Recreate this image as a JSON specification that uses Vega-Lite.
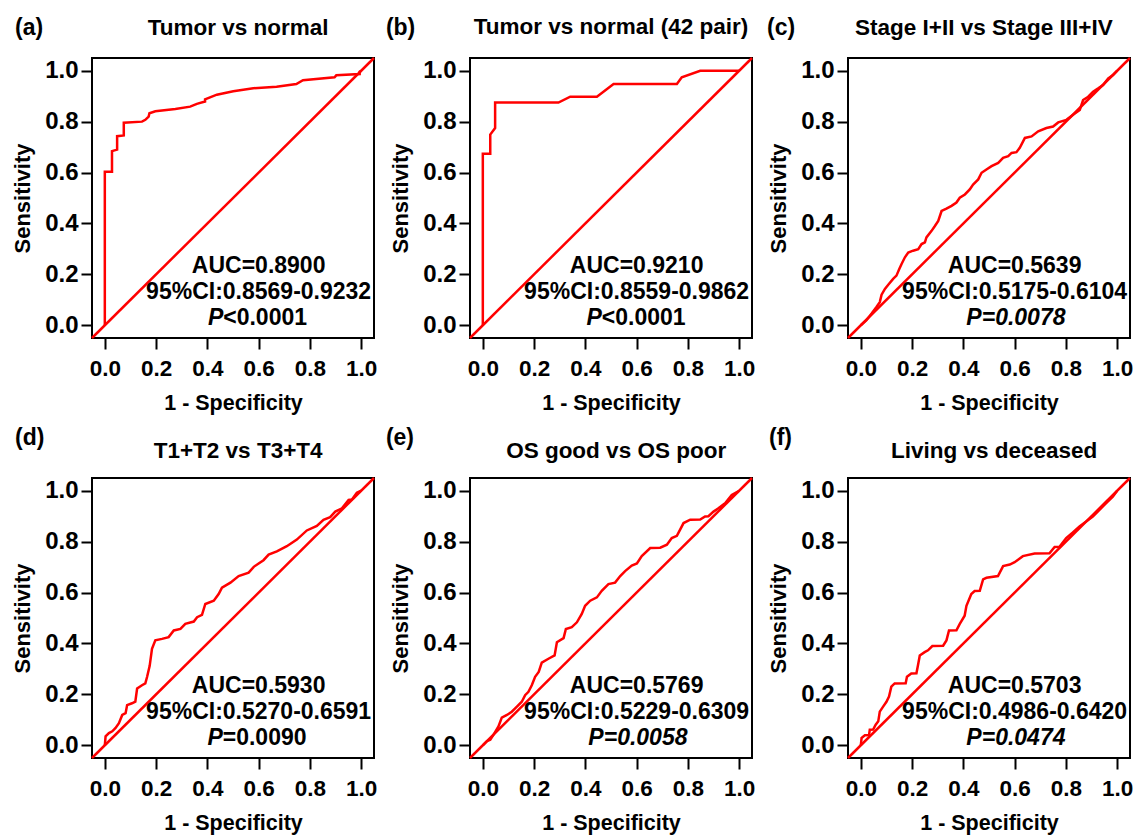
{
  "$schema": "https://vega.github.io/schema/vega-lite/v6.json",
  "background": "white",
  "padding": {"left": 10, "top": 14, "right": 4, "bottom": 2},
  "config": {
    "font": "Liberation Sans",
    "view": {"stroke": "black", "strokeWidth": 2},
    "axis": {"domain": false, "grid": false, "ticks": true, "tickColor": "black", "tickWidth": 2, "tickSize": 11, "labelColor": "black", "titleColor": "black", "labelFont": "Liberation Sans", "titleFont": "Liberation Sans", "labelFontWeight": "bold", "titleFontWeight": "bold", "labelFlush": false, "labelOverlap": false},
    "axisX": {"labelFontSize": 22.5, "titleFontSize": 21.5, "labelPadding": 8, "titlePadding": 13},
    "axisY": {"labelFontSize": 24, "titleFontSize": 22, "labelPadding": 3, "titlePadding": 10},
    "text": {"font": "Liberation Sans", "fontWeight": "bold", "fontSize": 23, "color": "black", "baseline": "middle"}
  },
  "datasets": {
    "a": [{"fpr":0,"tpr":0},{"fpr":0,"tpr":0.603},{"fpr":0.028,"tpr":0.603},{"fpr":0.028,"tpr":0.684},{"fpr":0.048,"tpr":0.69},{"fpr":0.048,"tpr":0.743},{"fpr":0.074,"tpr":0.746},{"fpr":0.074,"tpr":0.796},{"fpr":0.145,"tpr":0.8},{"fpr":0.158,"tpr":0.807},{"fpr":0.171,"tpr":0.82},{"fpr":0.174,"tpr":0.833},{"fpr":0.197,"tpr":0.841},{"fpr":0.275,"tpr":0.85},{"fpr":0.333,"tpr":0.859},{"fpr":0.359,"tpr":0.87},{"fpr":0.391,"tpr":0.879},{"fpr":0.391,"tpr":0.888},{"fpr":0.437,"tpr":0.906},{"fpr":0.501,"tpr":0.919},{"fpr":0.579,"tpr":0.931},{"fpr":0.67,"tpr":0.9375},{"fpr":0.747,"tpr":0.948},{"fpr":0.773,"tpr":0.963},{"fpr":0.896,"tpr":0.974},{"fpr":0.903,"tpr":0.982},{"fpr":0.994,"tpr":0.987},{"fpr":0.994,"tpr":0.996},{"fpr":1,"tpr":1}],
    "b": [{"fpr":0,"tpr":0},{"fpr":0,"tpr":0.674},{"fpr":0.029,"tpr":0.674},{"fpr":0.029,"tpr":0.749},{"fpr":0.048,"tpr":0.775},{"fpr":0.048,"tpr":0.875},{"fpr":0.295,"tpr":0.875},{"fpr":0.341,"tpr":0.898},{"fpr":0.445,"tpr":0.898},{"fpr":0.51,"tpr":0.948},{"fpr":0.757,"tpr":0.948},{"fpr":0.776,"tpr":0.974},{"fpr":0.848,"tpr":1},{"fpr":1,"tpr":1}],
    "c": [{"fpr":0,"tpr":0},{"fpr":0.022,"tpr":0.02},{"fpr":0.042,"tpr":0.046},{"fpr":0.061,"tpr":0.072},{"fpr":0.074,"tpr":0.091},{"fpr":0.081,"tpr":0.12},{"fpr":0.094,"tpr":0.143},{"fpr":0.107,"tpr":0.159},{"fpr":0.126,"tpr":0.182},{"fpr":0.139,"tpr":0.195},{"fpr":0.15,"tpr":0.221},{"fpr":0.159,"tpr":0.241},{"fpr":0.172,"tpr":0.267},{"fpr":0.185,"tpr":0.286},{"fpr":0.204,"tpr":0.293},{"fpr":0.224,"tpr":0.299},{"fpr":0.237,"tpr":0.319},{"fpr":0.25,"tpr":0.326},{"fpr":0.256,"tpr":0.345},{"fpr":0.276,"tpr":0.371},{"fpr":0.289,"tpr":0.39},{"fpr":0.302,"tpr":0.41},{"fpr":0.315,"tpr":0.449},{"fpr":0.334,"tpr":0.458},{"fpr":0.354,"tpr":0.469},{"fpr":0.373,"tpr":0.482},{"fpr":0.386,"tpr":0.501},{"fpr":0.406,"tpr":0.514},{"fpr":0.425,"tpr":0.534},{"fpr":0.438,"tpr":0.553},{"fpr":0.458,"tpr":0.573},{"fpr":0.471,"tpr":0.599},{"fpr":0.49,"tpr":0.612},{"fpr":0.51,"tpr":0.625},{"fpr":0.536,"tpr":0.638},{"fpr":0.555,"tpr":0.658},{"fpr":0.575,"tpr":0.664},{"fpr":0.588,"tpr":0.677},{"fpr":0.607,"tpr":0.68},{"fpr":0.62,"tpr":0.697},{"fpr":0.64,"tpr":0.736},{"fpr":0.666,"tpr":0.742},{"fpr":0.692,"tpr":0.762},{"fpr":0.724,"tpr":0.775},{"fpr":0.75,"tpr":0.781},{"fpr":0.77,"tpr":0.797},{"fpr":0.802,"tpr":0.807},{"fpr":0.828,"tpr":0.827},{"fpr":0.854,"tpr":0.846},{"fpr":0.867,"tpr":0.885},{"fpr":0.887,"tpr":0.898},{"fpr":0.906,"tpr":0.918},{"fpr":0.926,"tpr":0.931},{"fpr":0.945,"tpr":0.944},{"fpr":0.965,"tpr":0.97},{"fpr":0.984,"tpr":0.983},{"fpr":1,"tpr":1}],
    "d": [{"fpr":0,"tpr":0},{"fpr":0.003,"tpr":0.035},{"fpr":0.016,"tpr":0.048},{"fpr":0.029,"tpr":0.055},{"fpr":0.042,"tpr":0.068},{"fpr":0.055,"tpr":0.087},{"fpr":0.068,"tpr":0.119},{"fpr":0.081,"tpr":0.126},{"fpr":0.087,"tpr":0.158},{"fpr":0.106,"tpr":0.165},{"fpr":0.119,"tpr":0.171},{"fpr":0.126,"tpr":0.223},{"fpr":0.145,"tpr":0.236},{"fpr":0.158,"tpr":0.243},{"fpr":0.165,"tpr":0.269},{"fpr":0.175,"tpr":0.312},{"fpr":0.184,"tpr":0.379},{"fpr":0.197,"tpr":0.412},{"fpr":0.223,"tpr":0.418},{"fpr":0.249,"tpr":0.425},{"fpr":0.269,"tpr":0.451},{"fpr":0.295,"tpr":0.457},{"fpr":0.314,"tpr":0.477},{"fpr":0.347,"tpr":0.486},{"fpr":0.36,"tpr":0.503},{"fpr":0.379,"tpr":0.512},{"fpr":0.392,"tpr":0.555},{"fpr":0.425,"tpr":0.568},{"fpr":0.444,"tpr":0.594},{"fpr":0.457,"tpr":0.619},{"fpr":0.49,"tpr":0.639},{"fpr":0.522,"tpr":0.665},{"fpr":0.561,"tpr":0.678},{"fpr":0.581,"tpr":0.701},{"fpr":0.6,"tpr":0.714},{"fpr":0.619,"tpr":0.727},{"fpr":0.639,"tpr":0.749},{"fpr":0.671,"tpr":0.762},{"fpr":0.71,"tpr":0.782},{"fpr":0.749,"tpr":0.808},{"fpr":0.788,"tpr":0.844},{"fpr":0.827,"tpr":0.862},{"fpr":0.853,"tpr":0.886},{"fpr":0.879,"tpr":0.896},{"fpr":0.899,"tpr":0.918},{"fpr":0.925,"tpr":0.931},{"fpr":0.951,"tpr":0.964},{"fpr":0.964,"tpr":0.966},{"fpr":0.983,"tpr":0.992},{"fpr":1,"tpr":1}],
    "e": [{"fpr":0,"tpr":0},{"fpr":0.016,"tpr":0.016},{"fpr":0.029,"tpr":0.022},{"fpr":0.042,"tpr":0.042},{"fpr":0.061,"tpr":0.074},{"fpr":0.074,"tpr":0.109},{"fpr":0.094,"tpr":0.119},{"fpr":0.113,"tpr":0.132},{"fpr":0.133,"tpr":0.152},{"fpr":0.152,"tpr":0.171},{"fpr":0.165,"tpr":0.197},{"fpr":0.178,"tpr":0.21},{"fpr":0.191,"tpr":0.236},{"fpr":0.204,"tpr":0.269},{"fpr":0.218,"tpr":0.288},{"fpr":0.23,"tpr":0.325},{"fpr":0.256,"tpr":0.34},{"fpr":0.28,"tpr":0.353},{"fpr":0.289,"tpr":0.405},{"fpr":0.315,"tpr":0.421},{"fpr":0.324,"tpr":0.457},{"fpr":0.347,"tpr":0.464},{"fpr":0.367,"tpr":0.483},{"fpr":0.386,"tpr":0.516},{"fpr":0.399,"tpr":0.548},{"fpr":0.419,"tpr":0.568},{"fpr":0.445,"tpr":0.581},{"fpr":0.464,"tpr":0.607},{"fpr":0.49,"tpr":0.633},{"fpr":0.516,"tpr":0.639},{"fpr":0.536,"tpr":0.665},{"fpr":0.555,"tpr":0.684},{"fpr":0.581,"tpr":0.706},{"fpr":0.601,"tpr":0.714},{"fpr":0.62,"tpr":0.743},{"fpr":0.653,"tpr":0.775},{"fpr":0.692,"tpr":0.776},{"fpr":0.718,"tpr":0.788},{"fpr":0.737,"tpr":0.814},{"fpr":0.757,"tpr":0.823},{"fpr":0.783,"tpr":0.873},{"fpr":0.809,"tpr":0.886},{"fpr":0.848,"tpr":0.887},{"fpr":0.867,"tpr":0.899},{"fpr":0.88,"tpr":0.9},{"fpr":0.9,"tpr":0.918},{"fpr":0.919,"tpr":0.931},{"fpr":0.945,"tpr":0.951},{"fpr":0.971,"tpr":0.983},{"fpr":1,"tpr":1}],
    "f": [{"fpr":0,"tpr":0},{"fpr":0.003,"tpr":0.029},{"fpr":0.016,"tpr":0.039},{"fpr":0.032,"tpr":0.04},{"fpr":0.035,"tpr":0.061},{"fpr":0.048,"tpr":0.062},{"fpr":0.058,"tpr":0.081},{"fpr":0.068,"tpr":0.094},{"fpr":0.074,"tpr":0.132},{"fpr":0.087,"tpr":0.152},{"fpr":0.1,"tpr":0.171},{"fpr":0.11,"tpr":0.191},{"fpr":0.119,"tpr":0.23},{"fpr":0.132,"tpr":0.243},{"fpr":0.175,"tpr":0.244},{"fpr":0.18,"tpr":0.269},{"fpr":0.197,"tpr":0.282},{"fpr":0.217,"tpr":0.283},{"fpr":0.223,"tpr":0.314},{"fpr":0.23,"tpr":0.353},{"fpr":0.249,"tpr":0.366},{"fpr":0.262,"tpr":0.373},{"fpr":0.279,"tpr":0.39},{"fpr":0.321,"tpr":0.391},{"fpr":0.334,"tpr":0.412},{"fpr":0.344,"tpr":0.451},{"fpr":0.373,"tpr":0.452},{"fpr":0.386,"tpr":0.477},{"fpr":0.405,"tpr":0.509},{"fpr":0.412,"tpr":0.548},{"fpr":0.431,"tpr":0.594},{"fpr":0.444,"tpr":0.606},{"fpr":0.464,"tpr":0.607},{"fpr":0.477,"tpr":0.652},{"fpr":0.49,"tpr":0.658},{"fpr":0.535,"tpr":0.665},{"fpr":0.555,"tpr":0.704},{"fpr":0.581,"tpr":0.71},{"fpr":0.6,"tpr":0.719},{"fpr":0.632,"tpr":0.743},{"fpr":0.678,"tpr":0.753},{"fpr":0.736,"tpr":0.754},{"fpr":0.756,"tpr":0.779},{"fpr":0.775,"tpr":0.78},{"fpr":0.801,"tpr":0.814},{"fpr":0.827,"tpr":0.836},{"fpr":0.853,"tpr":0.86},{"fpr":0.879,"tpr":0.879},{"fpr":0.905,"tpr":0.899},{"fpr":0.931,"tpr":0.925},{"fpr":0.957,"tpr":0.951},{"fpr":0.983,"tpr":0.977},{"fpr":1,"tpr":1}]
  },
  "columns": 3,
  "spacing": {"row": 140, "column": 96},
  "bounds": "flush",
  "concat": [
    {
      "width": 282, "height": 280,
      "layer": [
        {"data": {"name": "a"}, "mark": {"type": "line", "color": "#ff0000", "strokeWidth": 2.5},
         "encoding": {
           "x": {"field": "fpr", "type": "quantitative", "scale": {"domain": [-0.05, 1.05], "nice": false, "zero": false}, "axis": {"title": "1 - Specificity", "values": [0, 0.2, 0.4, 0.6, 0.8, 1], "format": ".1f"}},
           "y": {"field": "tpr", "type": "quantitative", "scale": {"domain": [-0.05, 1.05], "nice": false, "zero": false}, "axis": {"title": "Sensitivity", "values": [0, 0.2, 0.4, 0.6, 0.8, 1], "format": ".1f"}},
           "order": [{"field": "fpr"}, {"field": "tpr"}]}},
        {"data": {"values": [{}]}, "mark": {"type": "rule", "color": "#ff0000", "strokeWidth": 2.5}, "encoding": {"x": {"datum": -0.05}, "y": {"datum": -0.05}, "x2": {"datum": 1.05}, "y2": {"datum": 1.05}}},
        {"data": {"values": [{}]}, "mark": {"type": "text", "text": "AUC=0.8900", "align": "center"}, "encoding": {"x": {"datum": 0.6}, "y": {"datum": 0.234}}},
        {"data": {"values": [{}]}, "mark": {"type": "text", "text": "95%CI:0.8569-0.9232", "align": "center"}, "encoding": {"x": {"datum": 0.6}, "y": {"datum": 0.13}}},
        {"data": {"values": [{}]}, "mark": {"type": "text", "text": "P", "align": "right", "fontStyle": "italic"}, "encoding": {"x": {"datum": 0.462}, "y": {"datum": 0.03}}},
        {"data": {"values": [{}]}, "mark": {"type": "text", "text": "<0.0001", "align": "left"}, "encoding": {"x": {"datum": 0.462}, "y": {"datum": 0.03}}},
        {"data": {"values": [{}]}, "mark": {"type": "text", "text": "(a)", "align": "left", "fontSize": 23}, "encoding": {"x": {"datum": -0.35}, "y": {"datum": 1.168}}},
        {"data": {"values": [{}]}, "mark": {"type": "text", "text": "Tumor vs normal", "align": "center", "fontSize": 22.5}, "encoding": {"x": {"datum": 0.52}, "y": {"datum": 1.168}}}
      ]
    },
    {
      "width": 282, "height": 280,
      "layer": [
        {"data": {"name": "b"}, "mark": {"type": "line", "color": "#ff0000", "strokeWidth": 2.5},
         "encoding": {
           "x": {"field": "fpr", "type": "quantitative", "scale": {"domain": [-0.05, 1.05], "nice": false, "zero": false}, "axis": {"title": "1 - Specificity", "values": [0, 0.2, 0.4, 0.6, 0.8, 1], "format": ".1f"}},
           "y": {"field": "tpr", "type": "quantitative", "scale": {"domain": [-0.05, 1.05], "nice": false, "zero": false}, "axis": {"title": "Sensitivity", "values": [0, 0.2, 0.4, 0.6, 0.8, 1], "format": ".1f"}},
           "order": [{"field": "fpr"}, {"field": "tpr"}]}},
        {"data": {"values": [{}]}, "mark": {"type": "rule", "color": "#ff0000", "strokeWidth": 2.5}, "encoding": {"x": {"datum": -0.05}, "y": {"datum": -0.05}, "x2": {"datum": 1.05}, "y2": {"datum": 1.05}}},
        {"data": {"values": [{}]}, "mark": {"type": "text", "text": "AUC=0.9210", "align": "center"}, "encoding": {"x": {"datum": 0.6}, "y": {"datum": 0.234}}},
        {"data": {"values": [{}]}, "mark": {"type": "text", "text": "95%CI:0.8559-0.9862", "align": "center"}, "encoding": {"x": {"datum": 0.6}, "y": {"datum": 0.13}}},
        {"data": {"values": [{}]}, "mark": {"type": "text", "text": "P", "align": "right", "fontStyle": "italic"}, "encoding": {"x": {"datum": 0.464}, "y": {"datum": 0.03}}},
        {"data": {"values": [{}]}, "mark": {"type": "text", "text": "<0.0001", "align": "left"}, "encoding": {"x": {"datum": 0.464}, "y": {"datum": 0.03}}},
        {"data": {"values": [{}]}, "mark": {"type": "text", "text": "(b)", "align": "left", "fontSize": 23}, "encoding": {"x": {"datum": -0.378}, "y": {"datum": 1.168}}},
        {"data": {"values": [{}]}, "mark": {"type": "text", "text": "Tumor vs normal (42 pair)", "align": "center", "fontSize": 22.5}, "encoding": {"x": {"datum": 0.5}, "y": {"datum": 1.172}}}
      ]
    },
    {
      "width": 282, "height": 280,
      "layer": [
        {"data": {"name": "c"}, "mark": {"type": "line", "color": "#ff0000", "strokeWidth": 2.5},
         "encoding": {
           "x": {"field": "fpr", "type": "quantitative", "scale": {"domain": [-0.05, 1.05], "nice": false, "zero": false}, "axis": {"title": "1 - Specificity", "values": [0, 0.2, 0.4, 0.6, 0.8, 1], "format": ".1f"}},
           "y": {"field": "tpr", "type": "quantitative", "scale": {"domain": [-0.05, 1.05], "nice": false, "zero": false}, "axis": {"title": "Sensitivity", "values": [0, 0.2, 0.4, 0.6, 0.8, 1], "format": ".1f"}},
           "order": [{"field": "fpr"}, {"field": "tpr"}]}},
        {"data": {"values": [{}]}, "mark": {"type": "rule", "color": "#ff0000", "strokeWidth": 2.5}, "encoding": {"x": {"datum": -0.05}, "y": {"datum": -0.05}, "x2": {"datum": 1.05}, "y2": {"datum": 1.05}}},
        {"data": {"values": [{}]}, "mark": {"type": "text", "text": "AUC=0.5639", "align": "center"}, "encoding": {"x": {"datum": 0.6}, "y": {"datum": 0.234}}},
        {"data": {"values": [{}]}, "mark": {"type": "text", "text": "95%CI:0.5175-0.6104", "align": "center"}, "encoding": {"x": {"datum": 0.6}, "y": {"datum": 0.13}}},
        {"data": {"values": [{}]}, "mark": {"type": "text", "text": "P=0.0078", "align": "center", "fontStyle": "italic"}, "encoding": {"x": {"datum": 0.605}, "y": {"datum": 0.03}}},
        {"data": {"values": [{}]}, "mark": {"type": "text", "text": "(c)", "align": "left", "fontSize": 23}, "encoding": {"x": {"datum": -0.366}, "y": {"datum": 1.168}}},
        {"data": {"values": [{}]}, "mark": {"type": "text", "text": "Stage I+II vs Stage III+IV", "align": "center", "fontSize": 22.5}, "encoding": {"x": {"datum": 0.48}, "y": {"datum": 1.168}}}
      ]
    },
    {
      "width": 282, "height": 280,
      "layer": [
        {"data": {"name": "d"}, "mark": {"type": "line", "color": "#ff0000", "strokeWidth": 2.5},
         "encoding": {
           "x": {"field": "fpr", "type": "quantitative", "scale": {"domain": [-0.05, 1.05], "nice": false, "zero": false}, "axis": {"title": "1 - Specificity", "values": [0, 0.2, 0.4, 0.6, 0.8, 1], "format": ".1f"}},
           "y": {"field": "tpr", "type": "quantitative", "scale": {"domain": [-0.05, 1.05], "nice": false, "zero": false}, "axis": {"title": "Sensitivity", "values": [0, 0.2, 0.4, 0.6, 0.8, 1], "format": ".1f"}},
           "order": [{"field": "fpr"}, {"field": "tpr"}]}},
        {"data": {"values": [{}]}, "mark": {"type": "rule", "color": "#ff0000", "strokeWidth": 2.5}, "encoding": {"x": {"datum": -0.05}, "y": {"datum": -0.05}, "x2": {"datum": 1.05}, "y2": {"datum": 1.05}}},
        {"data": {"values": [{}]}, "mark": {"type": "text", "text": "AUC=0.5930", "align": "center"}, "encoding": {"x": {"datum": 0.6}, "y": {"datum": 0.234}}},
        {"data": {"values": [{}]}, "mark": {"type": "text", "text": "95%CI:0.5270-0.6591", "align": "center"}, "encoding": {"x": {"datum": 0.6}, "y": {"datum": 0.13}}},
        {"data": {"values": [{}]}, "mark": {"type": "text", "text": "P", "align": "right", "fontStyle": "italic"}, "encoding": {"x": {"datum": 0.46}, "y": {"datum": 0.03}}},
        {"data": {"values": [{}]}, "mark": {"type": "text", "text": "=0.0090", "align": "left"}, "encoding": {"x": {"datum": 0.46}, "y": {"datum": 0.03}}},
        {"data": {"values": [{}]}, "mark": {"type": "text", "text": "(d)", "align": "left", "fontSize": 23}, "encoding": {"x": {"datum": -0.35}, "y": {"datum": 1.207}}},
        {"data": {"values": [{}]}, "mark": {"type": "text", "text": "T1+T2 vs T3+T4", "align": "center", "fontSize": 22.5}, "encoding": {"x": {"datum": 0.52}, "y": {"datum": 1.158}}}
      ]
    },
    {
      "width": 282, "height": 280,
      "layer": [
        {"data": {"name": "e"}, "mark": {"type": "line", "color": "#ff0000", "strokeWidth": 2.5},
         "encoding": {
           "x": {"field": "fpr", "type": "quantitative", "scale": {"domain": [-0.05, 1.05], "nice": false, "zero": false}, "axis": {"title": "1 - Specificity", "values": [0, 0.2, 0.4, 0.6, 0.8, 1], "format": ".1f"}},
           "y": {"field": "tpr", "type": "quantitative", "scale": {"domain": [-0.05, 1.05], "nice": false, "zero": false}, "axis": {"title": "Sensitivity", "values": [0, 0.2, 0.4, 0.6, 0.8, 1], "format": ".1f"}},
           "order": [{"field": "fpr"}, {"field": "tpr"}]}},
        {"data": {"values": [{}]}, "mark": {"type": "rule", "color": "#ff0000", "strokeWidth": 2.5}, "encoding": {"x": {"datum": -0.05}, "y": {"datum": -0.05}, "x2": {"datum": 1.05}, "y2": {"datum": 1.05}}},
        {"data": {"values": [{}]}, "mark": {"type": "text", "text": "AUC=0.5769", "align": "center"}, "encoding": {"x": {"datum": 0.6}, "y": {"datum": 0.234}}},
        {"data": {"values": [{}]}, "mark": {"type": "text", "text": "95%CI:0.5229-0.6309", "align": "center"}, "encoding": {"x": {"datum": 0.6}, "y": {"datum": 0.13}}},
        {"data": {"values": [{}]}, "mark": {"type": "text", "text": "P=0.0058", "align": "center", "fontStyle": "italic"}, "encoding": {"x": {"datum": 0.605}, "y": {"datum": 0.03}}},
        {"data": {"values": [{}]}, "mark": {"type": "text", "text": "(e)", "align": "left", "fontSize": 23}, "encoding": {"x": {"datum": -0.378}, "y": {"datum": 1.207}}},
        {"data": {"values": [{}]}, "mark": {"type": "text", "text": "OS good vs OS poor", "align": "center", "fontSize": 22.5}, "encoding": {"x": {"datum": 0.52}, "y": {"datum": 1.158}}}
      ]
    },
    {
      "width": 282, "height": 280,
      "layer": [
        {"data": {"name": "f"}, "mark": {"type": "line", "color": "#ff0000", "strokeWidth": 2.5},
         "encoding": {
           "x": {"field": "fpr", "type": "quantitative", "scale": {"domain": [-0.05, 1.05], "nice": false, "zero": false}, "axis": {"title": "1 - Specificity", "values": [0, 0.2, 0.4, 0.6, 0.8, 1], "format": ".1f"}},
           "y": {"field": "tpr", "type": "quantitative", "scale": {"domain": [-0.05, 1.05], "nice": false, "zero": false}, "axis": {"title": "Sensitivity", "values": [0, 0.2, 0.4, 0.6, 0.8, 1], "format": ".1f"}},
           "order": [{"field": "fpr"}, {"field": "tpr"}]}},
        {"data": {"values": [{}]}, "mark": {"type": "rule", "color": "#ff0000", "strokeWidth": 2.5}, "encoding": {"x": {"datum": -0.05}, "y": {"datum": -0.05}, "x2": {"datum": 1.05}, "y2": {"datum": 1.05}}},
        {"data": {"values": [{}]}, "mark": {"type": "text", "text": "AUC=0.5703", "align": "center"}, "encoding": {"x": {"datum": 0.6}, "y": {"datum": 0.234}}},
        {"data": {"values": [{}]}, "mark": {"type": "text", "text": "95%CI:0.4986-0.6420", "align": "center"}, "encoding": {"x": {"datum": 0.6}, "y": {"datum": 0.13}}},
        {"data": {"values": [{}]}, "mark": {"type": "text", "text": "P=0.0474", "align": "center", "fontStyle": "italic"}, "encoding": {"x": {"datum": 0.605}, "y": {"datum": 0.03}}},
        {"data": {"values": [{}]}, "mark": {"type": "text", "text": "(f)", "align": "left", "fontSize": 23}, "encoding": {"x": {"datum": -0.358}, "y": {"datum": 1.207}}},
        {"data": {"values": [{}]}, "mark": {"type": "text", "text": "Living vs deceased", "align": "center", "fontSize": 22.5}, "encoding": {"x": {"datum": 0.52}, "y": {"datum": 1.158}}}
      ]
    }
  ]
}
